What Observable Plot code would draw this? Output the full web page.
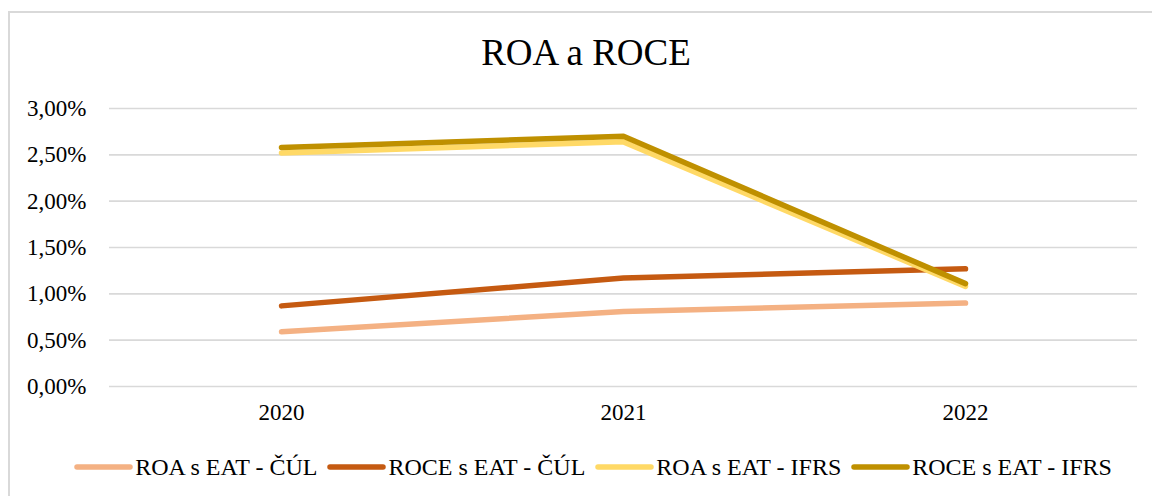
<!DOCTYPE html>
<html>
<head>
<meta charset="utf-8">
<script src="https://cdn.jsdelivr.net/npm/d3@7"></script>
<script src="https://cdn.jsdelivr.net/npm/@observablehq/plot@0.6"></script>
<style>
  html, body { margin: 0; padding: 0; background: #fff; overflow: hidden; }
  body { width: 1152px; height: 496px; position: relative; font-family: "Liberation Serif", "Times New Roman", serif; }
  #frame { position: absolute; left: 8px; top: 11px; width: 1160px; height: 500px; border: 2px solid #d9d9d9; box-sizing: border-box; }
  #title { position: relative; height: 80px; width: 1172px; text-align: center; font-size: 37px; line-height: 37px; padding-top: 34px; box-sizing: border-box; color: #000; }
  #chart { position: relative; height: 360px; }
  #chart svg, #chart svg text { font-family: "Liberation Serif", "Times New Roman", serif !important; }
  #legend { position: relative; height: 54px; width: 1186px; display: flex; justify-content: center; align-items: center; font-size: 24px; color: #000; }
  .item { display: flex; align-items: center; margin: 0 5px; }
  .item svg { margin-right: 2px; }
</style>
</head>
<body>
<div id="frame"></div>
<div id="title">ROA a ROCE</div>
<div id="chart"></div>
<div id="legend"></div>
<script>
const years = ["2020", "2021", "2022"];
const seriesNames = ["ROA s EAT - ČÚL", "ROCE s EAT - ČÚL", "ROA s EAT - IFRS", "ROCE s EAT - IFRS"];
const seriesColors = ["#F4B183", "#C55A11", "#FFD966", "#BF9000"];
const roaCul = [0.59, 0.81, 0.90];
const roceCul = [0.87, 1.17, 1.27];
const roaIfrs = [2.52, 2.64, 1.08];
const roceIfrs = [2.58, 2.70, 1.11];
const yTicks = [0, 0.5, 1, 1.5, 2, 2.5, 3];

const allSeries = [roaCul, roceCul, roaIfrs, roceIfrs];
const data = [];
allSeries.forEach((vals, i) => vals.forEach((v, j) => data.push({series: seriesNames[i], year: years[j], value: v})));

const fmt = d => d.toFixed(2).replace(".", ",") + "%";

const plot = Plot.plot({
  width: 1152,
  height: 360,
  marginTop: 28,
  marginBottom: 54,
  marginLeft: 109,
  marginRight: 15,
  style: {background: "transparent", color: "#000"},
  x: {type: "point", domain: years, padding: 0.5, label: null},
  y: {domain: [0, 3], label: null},
  color: {domain: seriesNames, range: seriesColors},
  marks: [
    Plot.gridY(yTicks, {stroke: "#d9d9d9", strokeOpacity: 1, strokeWidth: 1.6}),
    Plot.axisY(yTicks, {tickSize: 0, tickPadding: 23, tickFormat: fmt, fontSize: 23, label: null}),
    Plot.axisX({tickSize: 0, tickPadding: 17, fontSize: 23, label: null}),
    Plot.line(data, {x: "year", y: "value", z: "series", stroke: "series", strokeWidth: 5.5, strokeLinecap: "round", strokeLinejoin: "round"})
  ]
});
document.getElementById("chart").appendChild(plot);

const legend = document.getElementById("legend");
seriesNames.forEach((name, i) => {
  const item = document.createElement("div");
  item.className = "item";
  item.innerHTML = `<svg width="59" height="10"><line x1="3" y1="5" x2="56" y2="5" stroke="${seriesColors[i]}" stroke-width="5.5" stroke-linecap="round"/></svg><span>${name}</span>`;
  legend.appendChild(item);
});
</script>
</body>
</html>
